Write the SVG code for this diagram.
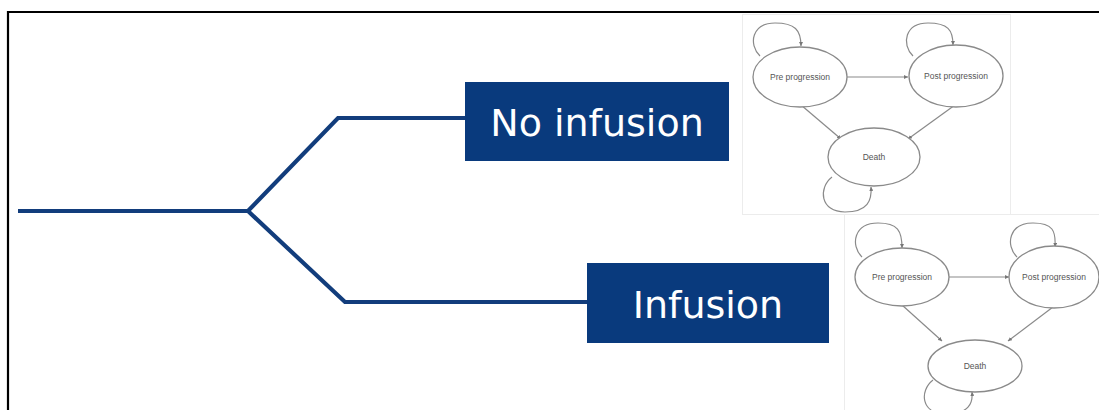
<svg xmlns="http://www.w3.org/2000/svg" width="1099" height="410" viewBox="0 0 1099 410">
<style>
.frame{fill:none;stroke:#000;stroke-width:2.2}
.tree{fill:none;stroke:#123d7c;stroke-width:4.2;stroke-linejoin:miter}
.box{fill:#093a7d}
.lbl{font-family:"DejaVu Sans",Verdana,sans-serif;font-size:38px;fill:#fff;text-anchor:middle}
.panel{fill:#fff;stroke:#ececec;stroke-width:1}
.st{fill:#fff;stroke:#8a8a8a;stroke-width:1.3}
.ed{fill:none;stroke:#8a8a8a;stroke-width:1.2;marker-end:url(#ah)}
.stl{font-family:"Liberation Sans",Arial,sans-serif;font-size:8.5px;fill:#555;text-anchor:middle}
</style>
<defs>
<marker id="ah" viewBox="0 0 6 6" refX="6" refY="3" markerWidth="4" markerHeight="4" orient="auto" markerUnits="userSpaceOnUse">
<path d="M0,0 L6,3 L0,6 z" fill="#777"/>
</marker>
</defs>
<rect width="1099" height="410" fill="#fff"/>
<path class="frame" d="M8,410 V12 H1099"/>
<g id="connectors">
<path class="tree" d="M18,211 H248 L338,118 H466"/>
<path class="tree" d="M248,211 L345,302 H588"/>
</g>
<g id="no-infusion">
<rect class="box" x="465" y="82" width="264" height="79"/>
<text class="lbl" x="597" y="136">No infusion</text>
</g>
<g id="infusion">
<rect class="box" x="587" y="263" width="242" height="80"/>
<text class="lbl" x="708" y="318">Infusion</text>
</g>
<g id="model-no-infusion">
<rect class="panel" x="742.5" y="14.5" width="268" height="200"/>
<g class="edges">
<path class="ed" d="M760,56 C748,44 752,23 775,23 C795,23 801,30 801,46"/>
<path class="ed" d="M913,56 C901,44 905,23 928,23 C948,23 953,30 953,45"/>
<path class="ed" d="M832,177 C818,188 820,212 845,212 C868,212 872,200 871,187"/>
<path class="ed" d="M847,77 H908"/>
<path class="ed" d="M801,105 L841,139"/>
<path class="ed" d="M955,105 L908,139"/>
</g>
<g id="pre1"><ellipse class="st" cx="800" cy="77" rx="47" ry="30"/><text class="stl" x="800" y="80">Pre progression</text></g>
<g id="post1"><ellipse class="st" cx="956" cy="76" rx="47" ry="31"/><text class="stl" x="956" y="79">Post progression</text></g>
<g id="death1"><ellipse class="st" cx="874" cy="157" rx="46" ry="29"/><text class="stl" x="874" y="160">Death</text></g>
</g>
<g id="model-infusion">
<rect class="panel" x="844.5" y="214.5" width="260" height="200"/>
<g class="edges">
<path class="ed" d="M862,257 C850,245 854,223 878,223 C898,223 902,231 902,248"/>
<path class="ed" d="M1017,257 C1005,245 1009,223 1033,223 C1053,223 1056,231 1055,247"/>
<path class="ed" d="M933,380 C919,391 921,414 946,414 C969,414 973,403 972,392"/>
<path class="ed" d="M949,277 H1009"/>
<path class="ed" d="M902,305 L942,341"/>
<path class="ed" d="M1053,307 L1008,341"/>
</g>
<g id="pre2"><ellipse class="st" cx="902" cy="277" rx="47" ry="29"/><text class="stl" x="902" y="280">Pre progression</text></g>
<g id="post2"><ellipse class="st" cx="1054" cy="277" rx="45" ry="31"/><text class="stl" x="1054" y="280">Post progression</text></g>
<g id="death2"><ellipse class="st" cx="975" cy="366" rx="47" ry="26"/><text class="stl" x="975" y="369">Death</text></g>
</g>
</svg>
